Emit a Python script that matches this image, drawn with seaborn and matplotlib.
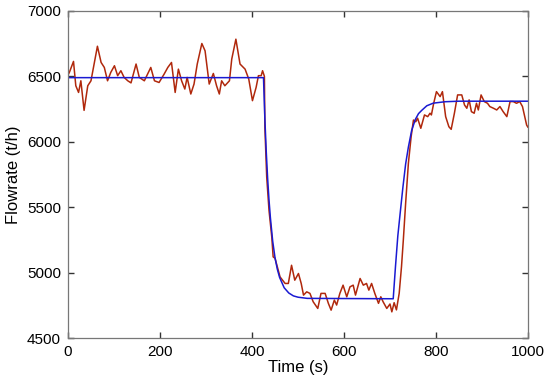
import numpy as np
import pandas as pd
import matplotlib
matplotlib.use("Agg")
import matplotlib.pyplot as plt
import seaborn as sns

t_meas = [0, 3, 12, 17, 23, 28, 35, 43, 50, 57, 64, 72, 79, 86, 93, 101, 108, 115,
          122, 130, 137, 148, 155, 166, 173, 180, 188, 198, 209, 217, 225, 233, 240,
          247, 254, 259, 267, 274, 281, 291, 298, 307, 316, 323, 329, 334, 341, 351,
          356, 365, 374, 385, 393, 401, 409, 414, 420, 423, 427, 428, 432, 437, 443,
          446, 450, 461, 472, 479, 486, 493, 501, 507, 512, 519, 526, 533, 543, 550,
          559, 566, 572, 579, 584, 591, 598, 606, 613, 620, 625, 635, 642, 649, 654,
          660, 667, 675, 680, 685, 693, 700, 704, 709, 714, 720, 725, 729, 734, 740,
          746, 751, 756, 760, 767, 775, 782, 787, 790, 795, 801, 809, 814, 821, 828,
          833, 840, 847, 856, 862, 867, 872, 877, 883, 888, 892, 898, 905, 912, 917,
          925, 932, 939, 946, 954, 961, 968, 975, 982, 988, 997, 1000]
flow_meas = [6510, 6530, 6614, 6428, 6377, 6466, 6240, 6428, 6466, 6596, 6730, 6606,
             6568, 6466, 6530, 6581, 6505, 6543, 6492, 6466, 6450, 6594, 6492, 6466,
             6517, 6568, 6466, 6453, 6517, 6568, 6606, 6377, 6555, 6466, 6403, 6492,
             6365, 6441, 6594, 6751, 6695, 6441, 6522, 6428, 6365, 6466, 6428, 6466,
             6632, 6784, 6594, 6555, 6479, 6314, 6416, 6505, 6505, 6543, 6500, 6111,
             5730, 5476, 5272, 5120, 5110, 4967, 4917, 4917, 5056, 4942, 4993, 4917,
             4828, 4853, 4841, 4777, 4726, 4841, 4841, 4765, 4713, 4790, 4752, 4841,
             4904, 4815, 4891, 4904, 4828, 4955, 4904, 4917, 4866, 4917, 4841, 4765,
             4815, 4777, 4726, 4760, 4700, 4770, 4715, 4842, 5045, 5250, 5530, 5836,
             6040, 6166, 6153, 6180, 6103, 6205, 6192, 6218, 6205, 6294, 6383, 6345,
             6383, 6192, 6115, 6095, 6218, 6358, 6358, 6281, 6256, 6320, 6230, 6218,
             6294, 6243, 6358, 6307, 6294, 6269, 6256, 6243, 6269, 6230, 6192, 6307,
             6307, 6294, 6307, 6269, 6128, 6110]

# Reponse du modele
t_model = [0, 425, 428, 431, 434, 437, 440, 445, 450, 455, 460, 470, 480, 490, 500,
           520, 707, 712, 717, 722, 728, 734, 740, 747, 755, 762, 769, 780, 794, 820,
           850, 1000]
flow_model = [6490, 6490, 6175, 5925, 5720, 5555, 5420, 5240, 5115, 5027, 4963, 4884,
              4844, 4822, 4812, 4803, 4800, 5050, 5280, 5450, 5650, 5830, 5960, 6085,
              6170, 6215, 6240, 6275, 6295, 6306, 6310, 6310]

x_ticks = [0, 200, 400, 600, 800, 1000]
y_ticks = [4500, 5000, 5500, 6000, 6500, 7000]

sns.set_style("white")
plt.rcParams['font.family'] = ['Liberation Sans', 'DejaVu Sans']
plt.rcParams['text.color'] = 'black'
plt.rcParams['axes.labelcolor'] = 'black'

df_meas = pd.DataFrame({'t': t_meas, 'flow': flow_meas})
df_model = pd.DataFrame({'t': t_model, 'flow': flow_model})

fig = plt.figure(figsize=(5.5, 3.9), dpi=100)
ax = fig.add_axes([0.1236, 0.1333, 0.8364, 0.8387])

sns.lineplot(data=df_meas, x='t', y='flow', color='#b0280c', lw=1.1, ax=ax)
sns.lineplot(data=df_model, x='t', y='flow', color='#1a1ad2', lw=1.1, ax=ax)

ax.set_xlim(0, 1000)
ax.set_ylim(4500, 7000)
ax.set_xticks(x_ticks)
ax.set_yticks(y_ticks)
ax.set_xlabel('Time (s)', fontsize=12, labelpad=1)
ax.set_ylabel('Flowrate (t/h)', fontsize=12, labelpad=4)
ax.tick_params(which='major', direction='in', length=4, width=1.0, color='#333333',
               labelcolor='black', labelsize=11, top=True, right=True,
               bottom=True, left=True, pad=5)
for s in ax.spines.values():
    s.set_color('#777777')
    s.set_linewidth(0.9)

fig.savefig('out.png', dpi=100)
